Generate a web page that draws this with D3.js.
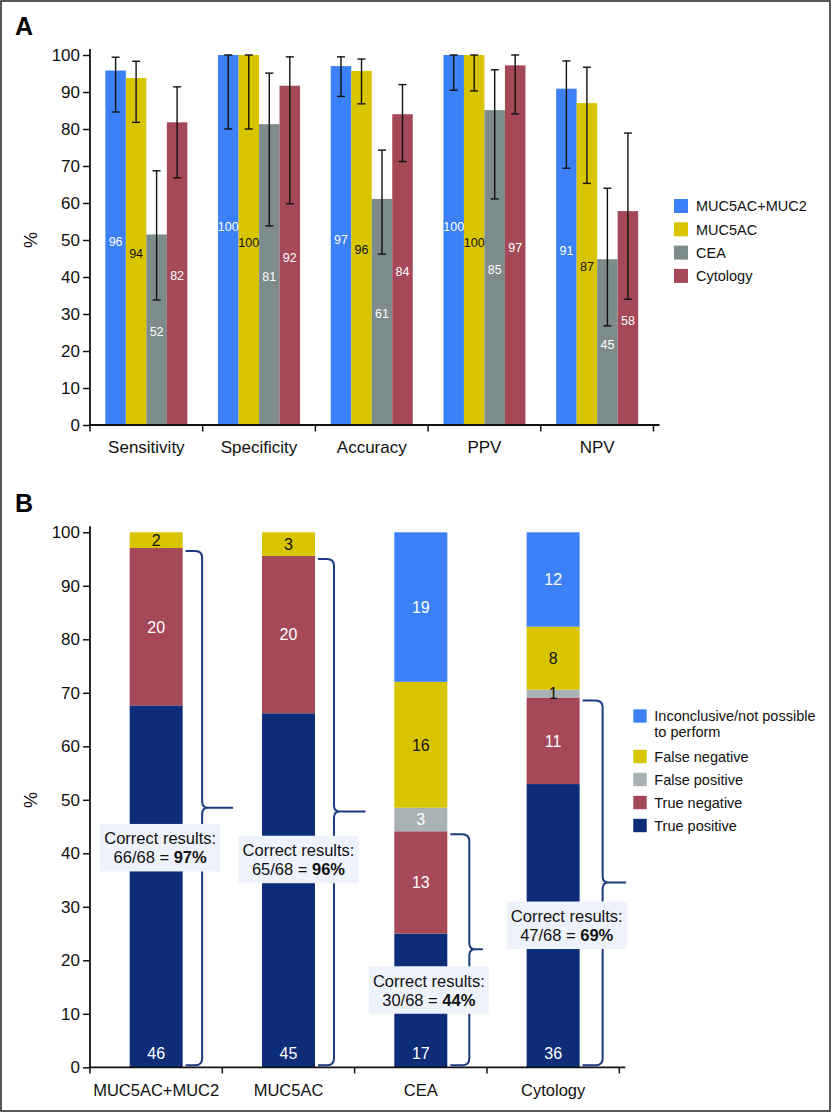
<!DOCTYPE html>
<html><head><meta charset="utf-8">
<script src="https://cdn.jsdelivr.net/npm/d3@7"></script>
<style>body{margin:0;background:#fff} svg text{font-family:"Liberation Sans",Arial,Helvetica,sans-serif}</style>
</head><body><svg id="c" width="832" height="1113"></svg>
<script>
// ---------- Panel A data ----------
const categoriesA = ["Sensitivity", "Specificity", "Accuracy", "PPV", "NPV"];
const seriesA = ["MUC5AC+MUC2", "MUC5AC", "CEA", "Cytology"];
const valMucCombo = [95.8, 100, 97.0, 100, 90.9];
const valMuc5ac   = [93.8, 100, 95.7, 100, 87.0];
const valCea      = [51.5, 81.3, 61.1, 85.1, 44.8];
const valCytology = [81.8, 91.7, 84.0, 97.2, 57.8];
const loMucCombo = [84.6, 80.0, 88.8, 90.5, 69.4];
const hiMucCombo = [99.4, 100, 99.5, 100, 98.4];
const loMuc5ac   = [81.8, 80.0, 86.8, 90.3, 65.3];
const hiMuc5ac   = [98.3, 100, 98.9, 100, 96.7];
const loCea      = [33.8, 53.8, 46.2, 61.1, 26.8];
const hiCea      = [68.7, 95.1, 74.3, 96.0, 64.0];
const loCytology = [66.8, 59.8, 71.2, 84.1, 34.0];
const hiCytology = [91.4, 99.5, 92.0, 100, 78.9];
const yTicksA = [0, 10, 20, 30, 40, 50, 60, 70, 80, 90, 100];

// ---------- Panel B data ----------
const methodsB = ["MUC5AC+MUC2", "MUC5AC", "CEA", "Cytology"];
const truePositive  = [46, 45, 17, 36];
const trueNegative  = [20, 20, 13, 11];
const falsePositive = [0, 0, 3, 1];
const falseNegative = [2, 3, 16, 8];
const inconclusive  = [0, 0, 19, 12];
const totalCases = 68;
const outcomeKeys = ["True positive", "True negative", "False positive", "False negative", "Inconclusive/not possible to perform"];
const yTicksB = [0, 10, 20, 30, 40, 50, 60, 70, 80, 90, 100];

// ---------- styles ----------
const colA = ["#3b80f5", "#d9c400", "#7e8b8b", "#a54858"];
const labelColA = ["#fff", "#111", "#fff", "#fff"];
const colB = {"True positive": "#0e2d78", "True negative": "#a54858", "False positive": "#a8b1b3",
              "False negative": "#d9c400", "Inconclusive/not possible to perform": "#3b80f5"};
const braceColor = "#1c3b82";
const braceLayout = [{gap: 19.5, tip: 31}, {gap: 19, tip: 31.5}, {gap: 22, tip: 13.5}, {gap: 23, tip: 23.5}];
const annotLayout = [{dx: 4, pct: 41.0}, {dx: 10, pct: 38.8}, {dx: 8, pct: 14.4}, {dx: 13.6, pct: 26.5}];
const FONT = '"Liberation Sans",Arial,Helvetica,sans-serif';

const svg = d3.select("#c");
svg.append("rect").attr("x", 1).attr("y", 1).attr("width", 829).attr("height", 1110)
  .attr("fill", "#fff").attr("stroke", "#222").attr("stroke-width", 1.5);

// ================= PANEL A =================
svg.append("text").attr("x", 15).attr("y", 35).attr("font-size", 25).attr("font-weight", "bold").text("A");

const yA = d3.scaleLinear().domain([0, 100]).range([425, 55]);
const xA = d3.scaleBand().domain(categoriesA).range([90, 653.5]);
const groupW = 82;
const xSub = d3.scaleBand().domain(seriesA).range([0, groupW]);
const offA = (xA.bandwidth() - groupW) / 2;

const valsA = [valMucCombo, valMuc5ac, valCea, valCytology];
const losA = [loMucCombo, loMuc5ac, loCea, loCytology];
const hisA = [hiMucCombo, hiMuc5ac, hiCea, hiCytology];
const rowsA = [];
categoriesA.forEach((c, i) => seriesA.forEach((s, j) => rowsA.push({c, s, j, v: valsA[j][i], lo: losA[j][i], hi: hisA[j][i]})));

const gBarsA = svg.append("g");
gBarsA.selectAll("rect").data(rowsA).join("rect")
  .attr("x", d => xA(d.c) + offA + xSub(d.s))
  .attr("width", xSub.bandwidth())
  .attr("y", d => yA(d.v))
  .attr("height", d => yA(0) - yA(d.v))
  .attr("fill", d => colA[d.j]);

// value labels
gBarsA.selectAll("text").data(rowsA).join("text")
  .attr("x", d => xA(d.c) + offA + xSub(d.s) + xSub.bandwidth() / 2)
  .attr("y", d => {
    const lab = String(Math.round(d.v));
    let y = yA(d.v / 2) + 2 + 4.5;
    if (d.j === 0) y -= (lab.length === 3 ? 16 : 8);
    return y;
  })
  .attr("text-anchor", "middle").attr("font-size", 12.5)
  .attr("fill", d => labelColA[d.j])
  .text(d => Math.round(d.v));

// error bars
const gErr = svg.append("g").attr("stroke", "#111").attr("stroke-width", 1.4);
rowsA.forEach(d => {
  const cx = xA(d.c) + offA + xSub(d.s) + xSub.bandwidth() / 2;
  gErr.append("line").attr("x1", cx).attr("x2", cx).attr("y1", yA(d.hi)).attr("y2", yA(d.lo));
  gErr.append("line").attr("x1", cx - 4).attr("x2", cx + 4).attr("y1", yA(d.hi)).attr("y2", yA(d.hi));
  gErr.append("line").attr("x1", cx - 4).attr("x2", cx + 4).attr("y1", yA(d.lo)).attr("y2", yA(d.lo));
});

// axes A
const gyA = svg.append("g").attr("transform", "translate(90,0)")
  .call(d3.axisLeft(yA).tickValues(yTicksA).tickSize(7).tickPadding(3));
gyA.attr("font-family", FONT).attr("font-size", 17);
gyA.select(".domain").remove();
gyA.selectAll("line").attr("stroke", "#111").attr("stroke-width", 1.5);
gyA.selectAll("text").attr("fill", "#111");
svg.append("line").attr("x1", 90).attr("x2", 90).attr("y1", yA(100) - 6).attr("y2", yA(0))
  .attr("stroke", "#111").attr("stroke-width", 1.8);

const gxA = svg.append("g").attr("transform", "translate(0,425)")
  .call(d3.axisBottom(xA).tickSize(0).tickPadding(15.7));
gxA.attr("font-family", FONT).attr("font-size", 17);
gxA.select(".domain").remove();
gxA.selectAll("text").attr("fill", "#111");
svg.append("line").attr("x1", 89).attr("x2", xA.range()[1] + 6).attr("y1", 425).attr("y2", 425)
  .attr("stroke", "#111").attr("stroke-width", 1.8);
const bndA = categoriesA.map(c => xA(c)).concat([xA.range()[1]]);
svg.append("g").selectAll("line").data(bndA).join("line")
  .attr("x1", d => d).attr("x2", d => d).attr("y1", 425).attr("y2", 431.5)
  .attr("stroke", "#111").attr("stroke-width", 1.5);

svg.append("text").attr("transform", "translate(37,240) rotate(-90)")
  .attr("text-anchor", "middle").attr("font-size", 18).attr("fill", "#111").text("%");

// legend A
const legA = svg.append("g").attr("transform", "translate(674,0)");
seriesA.forEach((s, j) => {
  const cy = 206 + j * 23.3;
  legA.append("rect").attr("x", 0).attr("y", cy - 7).attr("width", 14).attr("height", 14).attr("fill", colA[j]);
  legA.append("text").attr("x", 22).attr("y", cy + 5.2).attr("font-size", 14.5).attr("fill", "#111").text(s);
});

// ================= PANEL B =================
svg.append("text").attr("x", 15).attr("y", 512).attr("font-size", 25).attr("font-weight", "bold").text("B");

const yB = d3.scaleLinear().domain([0, 100]).range([1067.3, 532.3]);
const xB = d3.scaleBand().domain(methodsB).range([90, 619.3]);
const barW = 53;
const bx = m => xB(m) + (xB.bandwidth() - barW) / 2;

const tableB = methodsB.map((m, i) => ({
  method: m,
  "True positive": truePositive[i] / totalCases * 100,
  "True negative": trueNegative[i] / totalCases * 100,
  "False positive": falsePositive[i] / totalCases * 100,
  "False negative": falseNegative[i] / totalCases * 100,
  "Inconclusive/not possible to perform": inconclusive[i] / totalCases * 100,
  counts: {"True positive": truePositive[i], "True negative": trueNegative[i], "False positive": falsePositive[i],
           "False negative": falseNegative[i], "Inconclusive/not possible to perform": inconclusive[i]}
}));
const stacked = d3.stack().keys(outcomeKeys)(tableB);

const gB = svg.append("g");
stacked.forEach(layer => {
  layer.forEach(seg => {
    const n = seg.data.counts[layer.key];
    if (n === 0) return;
    gB.append("rect").attr("x", bx(seg.data.method)).attr("width", barW)
      .attr("y", yB(seg[1])).attr("height", yB(seg[0]) - yB(seg[1]))
      .attr("fill", colB[layer.key]);
  });
});
stacked.forEach(layer => {
  layer.forEach(seg => {
    const n = seg.data.counts[layer.key];
    if (n === 0) return;
    let y, fill;
    if (layer.key === "True positive") { y = yB(0) - 8; fill = "#fff"; }
    else {
      y = yB((seg[0] + seg[1]) / 2) + 5.8;
      fill = (layer.key === "False negative" || n < 2) ? "#111" : "#fff";
    }
    gB.append("text").attr("x", bx(seg.data.method) + barW / 2).attr("y", y)
      .attr("text-anchor", "middle").attr("font-size", 16).attr("fill", fill).text(n);
  });
});

// braces
methodsB.forEach((m, i) => {
  const correct = truePositive[i] + trueNegative[i];
  const pct = correct / totalCases * 100;
  const x0 = bx(m) + barW + 3;
  const xv = bx(m) + barW + braceLayout[i].gap;
  const tip = xv + braceLayout[i].tip;
  const yT = yB(pct) + 3, yBt = yB(0) - 2, yM = yB(pct / 2);
  const r = 7, rc = 6;
  const p = d3.path();
  p.moveTo(x0, yT); p.lineTo(xv - r, yT); p.quadraticCurveTo(xv, yT, xv, yT + r);
  p.lineTo(xv, yM - rc); p.quadraticCurveTo(xv, yM, xv + rc, yM); p.lineTo(tip, yM);
  p.moveTo(xv + rc, yM); p.quadraticCurveTo(xv, yM, xv, yM + rc);
  p.lineTo(xv, yBt - r); p.quadraticCurveTo(xv, yBt, xv - r, yBt); p.lineTo(x0, yBt);
  svg.append("path").attr("d", p.toString()).attr("fill", "none")
    .attr("stroke", braceColor).attr("stroke-width", 2);

  // annotation box
  const cx = bx(m) + barW / 2 + annotLayout[i].dx;
  const cy = yB(annotLayout[i].pct);
  const g = svg.append("g");
  g.append("rect").attr("x", cx - 60).attr("y", cy - 24).attr("width", 120).attr("height", 47.5).attr("fill", "#eef3fb");
  g.append("text").attr("x", cx).attr("y", cy - 3.5).attr("text-anchor", "middle").attr("font-size", 16.5)
    .attr("fill", "#111").text("Correct results:");
  const t2 = g.append("text").attr("x", cx).attr("y", cy + 15.5).attr("text-anchor", "middle").attr("font-size", 16.5).attr("fill", "#111");
  t2.append("tspan").text(`${correct}/${totalCases} = `);
  t2.append("tspan").attr("font-weight", "bold").text(`${Math.round(pct)}%`);
});

// axes B
const gyB = svg.append("g").attr("transform", "translate(90,0)")
  .call(d3.axisLeft(yB).tickValues(yTicksB).tickSize(7).tickPadding(3));
gyB.attr("font-family", FONT).attr("font-size", 17);
gyB.select(".domain").remove();
gyB.selectAll("line").attr("stroke", "#111").attr("stroke-width", 1.5);
gyB.selectAll("text").attr("fill", "#111");
svg.append("line").attr("x1", 90).attr("x2", 90).attr("y1", yB(100) - 6).attr("y2", yB(0))
  .attr("stroke", "#111").attr("stroke-width", 1.8);

const gxB = svg.append("g").attr("transform", "translate(0,1067.3)")
  .call(d3.axisBottom(xB).tickSize(0).tickPadding(17));
gxB.attr("font-family", FONT).attr("font-size", 16.5);
gxB.select(".domain").remove();
gxB.selectAll("text").attr("fill", "#111");
svg.append("line").attr("x1", 89).attr("x2", xB.range()[1] + 6).attr("y1", 1067.3).attr("y2", 1067.3)
  .attr("stroke", "#111").attr("stroke-width", 1.8);
const bndB = methodsB.map(c => xB(c)).concat([xB.range()[1]]);
svg.append("g").selectAll("line").data(bndB).join("line")
  .attr("x1", d => d).attr("x2", d => d).attr("y1", 1067.3).attr("y2", 1073.5)
  .attr("stroke", "#111").attr("stroke-width", 1.5);

svg.append("text").attr("transform", "translate(37,800) rotate(-90)")
  .attr("text-anchor", "middle").attr("font-size", 18).attr("fill", "#111").text("%");

// legend B
const legB = svg.append("g").attr("transform", "translate(633.3,0)");
const legOrder = outcomeKeys.slice().reverse();
const legY = [716, 756.5, 779.5, 802.5, 825.5];
legOrder.forEach((k, i) => {
  const cy = legY[i];
  legB.append("rect").attr("x", 0).attr("y", cy - 6.7).attr("width", 13.4).attr("height", 13.4).attr("fill", colB[k]);
  const t = legB.append("text").attr("x", 21).attr("y", cy + 5.2).attr("font-size", 14.5).attr("fill", "#111");
  if (k.startsWith("Inconclusive")) {
    t.append("tspan").attr("x", 21).text("Inconclusive/not possible");
    t.append("tspan").attr("x", 21).attr("dy", 16).text("to perform");
  } else t.text(k);
});
</script></body></html>
